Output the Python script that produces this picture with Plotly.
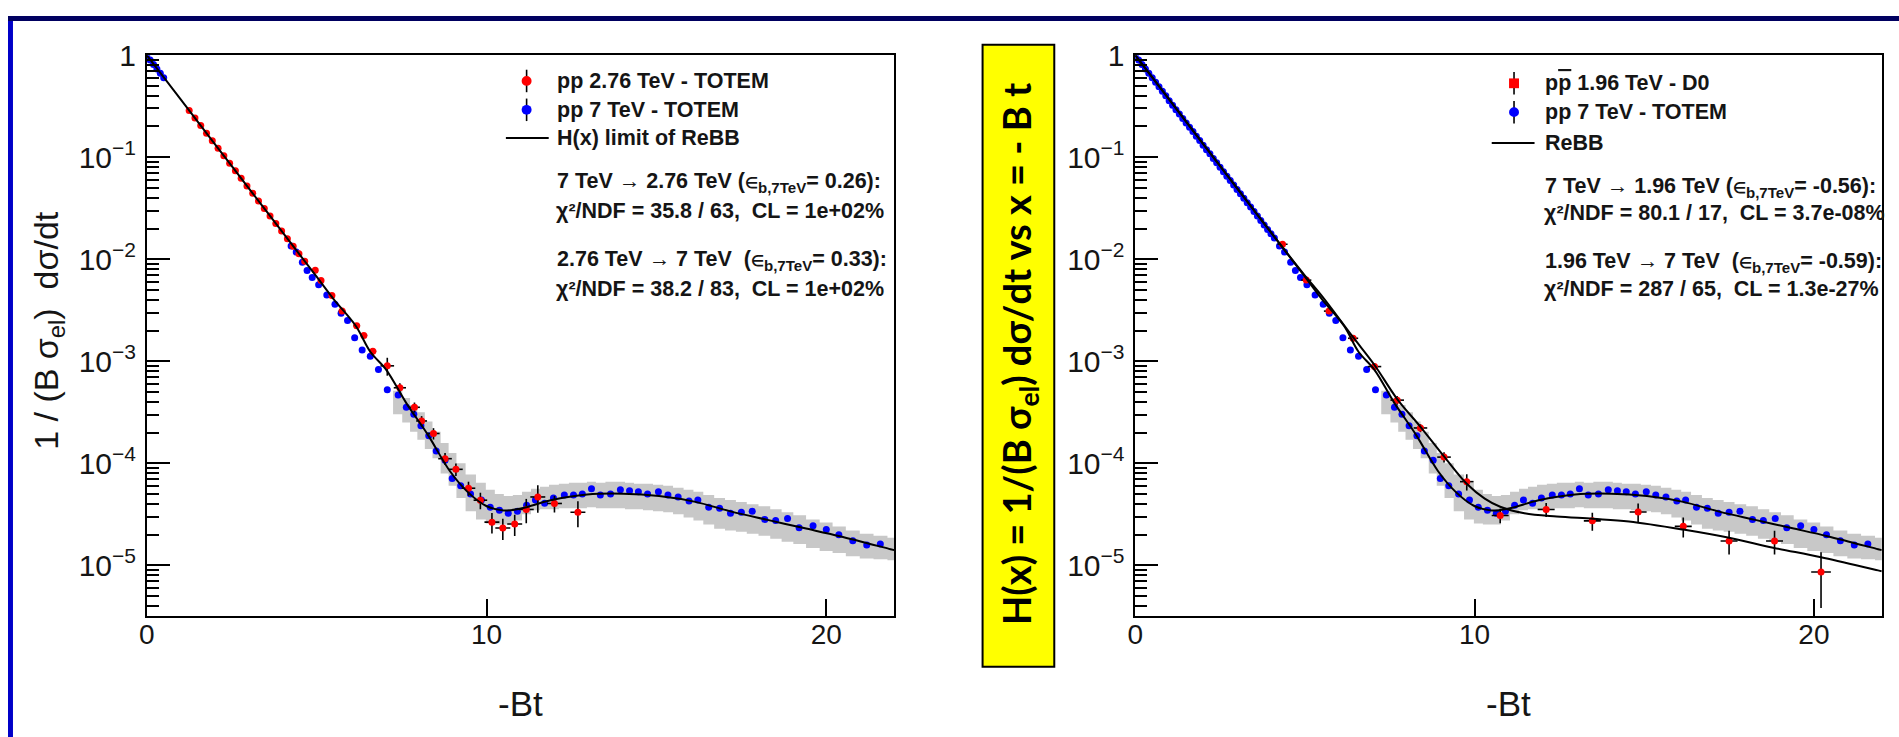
import plotly.graph_objects as go

W, H = 1899, 737

# ---------------- data ----------------
# 7 TeV TOTEM (blue): low-x dense part (left panel shows only the first points)
blue_lo_x = [0.0, 0.1, 0.2, 0.3, 0.4, 0.5, 0.6, 0.7, 0.8, 0.9, 1.0, 1.1, 1.2, 1.3, 1.4, 1.5,
             1.6, 1.7, 1.8, 1.9, 2.0, 2.1, 2.2, 2.3, 2.4, 2.5, 2.6, 2.7, 2.8, 2.9, 3.0, 3.1,
             3.2, 3.3, 3.4, 3.5, 3.6, 3.7, 3.8, 3.9, 4.0, 4.1]
blue_lo_y = [0.98, 0.895, 0.810, 0.733, 0.663, 0.600, 0.543, 0.490, 0.443, 0.400, 0.357,
             0.323, 0.292, 0.265, 0.240, 0.216, 0.196, 0.178, 0.160, 0.146, 0.131, 0.118,
             0.108, 0.097, 0.0880, 0.0796, 0.0721, 0.0652, 0.0590, 0.0534, 0.0483, 0.0437,
             0.0396, 0.0358, 0.0324, 0.0293, 0.0265, 0.0240, 0.0217, 0.0196, 0.0178, 0.0161]
blue_left_n = 6  # left panel: only x <= 0.5 of the dense part is visible
blue_c_x = [4.25, 4.40, 4.58, 4.72, 4.87, 5.06, 5.30, 5.54, 5.72, 5.91, 6.12, 6.34, 6.58, 6.82,
            7.08, 7.40, 7.64, 7.86, 8.07, 8.30, 8.52, 8.78, 8.99, 9.24, 9.53, 9.85, 10.11, 10.38,
            10.64, 10.91, 11.18, 11.44, 11.71, 11.97, 12.29, 12.56, 12.82, 13.09, 13.35, 13.65,
            13.94, 14.21, 14.47, 14.74, 15.06, 15.34, 15.64, 15.96, 16.22, 16.54, 16.86, 17.18,
            17.50, 17.82, 18.19, 18.51, 18.86, 19.20, 19.61, 20.00, 20.37, 20.78, 21.19, 21.59]
blue_c_y = [0.0135, 0.01175, 0.00933, 0.00776, 0.00661, 0.00562, 0.00447, 0.00363, 0.00295,
            0.00251, 0.00170, 0.00129, 0.00112, 8.32e-4, 5.25e-4, 4.68e-4, 3.55e-4, 3.02e-4,
            2.34e-4, 1.86e-4, 1.32e-4, 1.07e-4, 7.08e-5, 6.03e-5, 5.01e-5, 4.37e-5, 3.72e-5,
            3.47e-5, 3.24e-5, 3.39e-5, 3.89e-5, 4.37e-5, 4.07e-5, 4.57e-5, 4.90e-5, 4.90e-5,
            5.01e-5, 5.62e-5, 4.90e-5, 5.01e-5, 5.50e-5, 5.37e-5, 5.25e-5, 5.01e-5, 5.25e-5,
            4.90e-5, 4.68e-5, 4.27e-5, 4.37e-5, 3.72e-5, 3.63e-5, 3.24e-5, 3.31e-5, 3.39e-5,
            2.82e-5, 2.75e-5, 2.88e-5, 2.34e-5, 2.45e-5, 2.24e-5, 2.00e-5, 1.74e-5, 1.58e-5,
            1.62e-5]

# 2.76 TeV TOTEM (red, left panel)
red_x = [1.25, 1.42, 1.59, 1.76, 1.93, 2.10, 2.27, 2.44, 2.61, 2.78, 2.95, 3.12, 3.29, 3.46,
         3.63, 3.80, 3.97, 4.14, 4.31, 4.48, 4.65, 4.96, 5.13, 5.45, 5.75, 6.18, 6.39, 6.655,
         7.08, 7.45, 7.88, 8.09, 8.44, 8.78, 9.10, 9.47, 9.82, 10.16, 10.48, 10.83, 11.17,
         11.51, 12.00, 12.69]
red_y = [0.287, 0.242, 0.204, 0.172, 0.145, 0.122, 0.103, 0.0872, 0.0735, 0.0620, 0.0523,
         0.0442, 0.0373, 0.0314, 0.0265, 0.0224, 0.0189, 0.0159, 0.0134, 0.0113, 0.00956,
         0.0078, 0.0062, 0.0044, 0.00310, 0.00223, 0.00179, 0.00125, 9.02e-4, 5.50e-4,
         3.54e-4, 2.60e-4, 1.96e-4, 1.11e-4, 8.73e-5, 5.70e-5, 4.35e-5, 2.65e-5, 2.32e-5,
         2.54e-5, 3.53e-5, 4.68e-5, 4.04e-5, 3.31e-5]
red_yerr = [0] * 24 + [1.5e-4, 1.0e-4, 1.0e-4, 1.0e-4, 1.8e-4, 6e-5, 4e-5, 3e-5, 2.5e-5,
                       1.5e-5, 1.2e-5, 9e-6, 8e-6, 6e-6, 5.5e-6, 6e-6, 9.5e-6, 1.4e-5,
                       7.5e-6, 9.5e-6]
red_xerr = [0] * 24 + [0.1, 0.1, 0.1, 0.1, 0.2, 0.18, 0.16, 0.16, 0.18, 0.2, 0.2, 0.2, 0.2,
                       0.22, 0.22, 0.22, 0.22, 0.22, 0.22, 0.22]

# D0 1.96 TeV (red, right panel)
d0_x = [4.34, 5.04, 5.71, 6.42, 7.05, 7.72, 8.405, 9.10, 9.77, 10.755, 12.11, 13.47, 14.82,
        16.15, 17.50, 18.84, 20.21]
d0_y = [0.0140, 6.24e-3, 3.10e-3, 1.68e-3, 8.87e-4, 4.16e-4, 2.22e-4, 1.15e-4, 6.61e-5,
        3.08e-5, 3.53e-5, 2.73e-5, 3.33e-5, 2.41e-5, 1.73e-5, 1.73e-5, 8.61e-6]
d0_yerr = [8e-4, 4e-4, 2e-4, 1.2e-4, 7e-5, 4e-5, 2e-5, 1.3e-5, 1.2e-5, 5e-6, 5.5e-6, 5.5e-6,
           7e-6, 5.3e-6, 4.5e-6, 4.5e-6, 4.8e-6]
d0_xerr = [0.15, 0.15, 0.15, 0.15, 0.2, 0.2, 0.2, 0.2, 0.2, 0.25, 0.25, 0.25, 0.25, 0.25,
           0.25, 0.25, 0.29]

# ReBB / H(x) curve for 7 TeV
curve_a_x = [0, 1, 2, 3, 4, 5, 5.5, 6.15, 6.58, 7.05, 7.64, 8.28, 8.92, 9.45, 9.98, 10.51,
             11.04, 11.89, 12.96, 14.02, 15.08, 16.15, 17.21, 18.27, 19.34, 20.40, 21.89, 22.0]
curve_a_y = [1.0, 0.368, 0.135, 0.0498, 0.0183, 0.00674, 0.00407, 0.00223, 0.00124, 8.24e-4,
             3.89e-4, 1.89e-4, 8.41e-5, 5.22e-5, 3.84e-5, 3.45e-5, 3.63e-5, 4.35e-5, 4.95e-5,
             5.04e-5, 4.78e-5, 4.19e-5, 3.36e-5, 2.79e-5, 2.32e-5, 1.93e-5, 1.44e-5, 1.41e-5]
# ReBB curve for 1.96 TeV
curve_b_x = [0, 1, 2, 3, 4, 5.0, 5.51, 6.42, 7.05, 7.72, 8.405, 9.10, 9.77, 10.3, 10.755,
             11.47, 12.42, 13.49, 14.55, 16.15, 17.5, 18.8, 20.21, 21.89, 22.0]
curve_b_y = [1.0, 0.368, 0.135, 0.0498, 0.0183, 0.00692, 0.00432, 0.00172, 9.20e-4, 4.26e-4,
             2.28e-4, 1.17e-4, 6.31e-5, 4.51e-5, 3.75e-5, 3.24e-5, 3.01e-5, 2.86e-5, 2.69e-5,
             2.24e-5, 1.86e-5, 1.49e-5, 1.20e-5, 8.93e-6, 8.77e-6]

# 7 TeV uncertainty band: one box per 7 TeV point (edges, upper, lower)
band_edges = [7.25, 7.52, 7.75, 7.965, 8.185, 8.41, 8.65, 8.885, 9.115, 9.385, 9.69, 9.98,
              10.245, 10.51, 10.775, 11.045, 11.31, 11.575, 11.84, 12.13, 12.425, 12.69,
              12.955, 13.22, 13.50, 13.795, 14.075, 14.34, 14.605, 14.90, 15.20, 15.49, 15.80,
              16.09, 16.38, 16.70, 17.02, 17.34, 17.66, 18.005, 18.35, 18.685, 19.03, 19.405,
              19.805, 20.185, 20.575, 20.985, 21.39, 21.80, 22.2]
band_hi = [5.13e-4, 4.37e-4, 3.72e-4, 3.16e-4, 2.57e-4, 2.04e-4, 1.58e-4, 1.26e-4, 1.00e-4,
           7.76e-5, 6.46e-5, 5.50e-5, 5.01e-5, 4.79e-5, 4.90e-5, 5.25e-5, 5.62e-5, 5.89e-5,
           6.17e-5, 6.31e-5, 6.46e-5, 6.46e-5, 6.61e-5, 6.46e-5, 6.61e-5, 6.61e-5, 6.46e-5,
           6.31e-5, 6.31e-5, 6.17e-5, 6.03e-5, 5.75e-5, 5.50e-5, 5.25e-5, 4.90e-5, 4.57e-5,
           4.37e-5, 4.17e-5, 3.98e-5, 3.80e-5, 3.55e-5, 3.31e-5, 3.09e-5, 2.82e-5, 2.63e-5,
           2.40e-5, 2.19e-5, 2.04e-5, 1.95e-5, 1.86e-5]
band_lo = [3.02e-4, 2.51e-4, 2.04e-4, 1.70e-4, 1.38e-4, 1.12e-4, 7.94e-5, 6.03e-5, 4.57e-5,
           3.39e-5, 2.82e-5, 2.57e-5, 2.51e-5, 2.51e-5, 2.75e-5, 3.16e-5, 3.47e-5, 3.55e-5,
           3.55e-5, 3.63e-5, 3.63e-5, 3.63e-5, 3.72e-5, 3.63e-5, 3.63e-5, 3.63e-5, 3.55e-5,
           3.55e-5, 3.47e-5, 3.39e-5, 3.31e-5, 3.16e-5, 2.95e-5, 2.75e-5, 2.51e-5, 2.29e-5,
           2.19e-5, 2.14e-5, 2.04e-5, 1.95e-5, 1.82e-5, 1.70e-5, 1.62e-5, 1.48e-5, 1.38e-5,
           1.32e-5, 1.23e-5, 1.17e-5, 1.15e-5, 1.12e-5]

x_ticks = [0, 10, 20]

# ---------------- styles ----------------
RED, BLUE, GRAY = "#ff0000", "#0000ff", "#c8c8c8"
TXT = "#151515"
FONT = "Liberation Sans"


def px(x):
    return x / W


def py(y):
    return 1 - y / H


fig = go.Figure()


def add_panel(xa, ya, blue_sets, reds, curves):
    band_lo_step = band_lo + [band_lo[-1]]
    band_hi_step = band_hi + [band_hi[-1]]
    fig.add_trace(go.Scatter(x=band_edges, y=band_lo_step, mode="lines", line=dict(width=0, shape="hv"),
                             xaxis=xa, yaxis=ya, showlegend=False, hoverinfo="skip"))
    fig.add_trace(go.Scatter(x=band_edges, y=band_hi_step, mode="lines", line=dict(width=0, shape="hv"),
                             fill="tonexty", fillcolor=GRAY, xaxis=xa, yaxis=ya, showlegend=False,
                             hoverinfo="skip"))
    for bx, by in blue_sets:
        fig.add_trace(go.Scatter(x=bx, y=by, mode="markers", marker=dict(color=BLUE, size=7),
                                 xaxis=xa, yaxis=ya, showlegend=False))
    for rx, ry, rye, rxe in reds:
        fig.add_trace(go.Scatter(x=rx, y=ry, mode="markers",
                                 marker=dict(color=RED, size=7, symbol="circle"),
                                 error_y=dict(type="data", array=rye, color="black", thickness=1.6, width=0),
                                 error_x=dict(type="data", array=rxe, color="black", thickness=1.6, width=0),
                                 xaxis=xa, yaxis=ya, showlegend=False))
    for cx, cy in curves:
        fig.add_trace(go.Scatter(x=cx, y=cy, mode="lines", line=dict(color="black", width=2, shape="spline"),
                                 xaxis=xa, yaxis=ya, showlegend=False))


add_panel("x", "y",
          [(blue_lo_x[:blue_left_n], blue_lo_y[:blue_left_n]), (blue_c_x, blue_c_y)],
          [(red_x, red_y, red_yerr, red_xerr)],
          [(curve_a_x, curve_a_y)])
add_panel("x2", "y2",
          [(blue_lo_x, blue_lo_y), (blue_c_x, blue_c_y)],
          [(d0_x, d0_y, d0_yerr, d0_xerr)],
          [(curve_a_x, curve_a_y), (curve_b_x, curve_b_y)])

ydom = [py(613.7), py(40)]
xcommon = dict(range=[0, 22], tickvals=x_ticks, ticks="inside", ticklen=17, tickwidth=1.5,
               tickcolor="black", showline=True, linecolor="black", linewidth=1.8, mirror=True,
               showgrid=False, zeroline=False, tickfont=dict(family=FONT, size=28, color=TXT),
               ticklabelstandoff=-8)
ycommon = dict(type="log", range=[-5.5, 0], dtick=1, exponentformat="power", ticks="inside",
               ticklen=23, tickwidth=1.5, tickcolor="black", showline=True, linecolor="black",
               linewidth=1.8, mirror=True, showgrid=False, zeroline=False,
               minor=dict(ticks="inside", ticklen=12, tickwidth=1.5, tickcolor="black", dtick="D1",
                          showgrid=False),
               tickfont=dict(family=FONT, size=24, color=TXT), ticklabelstandoff=4, domain=ydom)

fig.update_layout(
    width=W, height=H, margin=dict(l=0, r=0, t=0, b=0),
    paper_bgcolor="white", plot_bgcolor="white", showlegend=False,
    xaxis=dict(domain=[px(139.3), px(890)], anchor="y", **xcommon),
    yaxis=dict(anchor="x", **ycommon),
    xaxis2=dict(domain=[px(1132), px(1881.7)], anchor="y2", **xcommon),
    yaxis2=dict(anchor="x2", **ycommon),
)

shapes = []
annotations = []


def ann(text, x, y, size, xanchor="left", angle=0, family=FONT, weight="bold", color=TXT):
    annotations.append(dict(text=text, x=px(x), y=py(y), xref="paper", yref="paper",
                            showarrow=False, xanchor=xanchor, yanchor="middle", textangle=angle,
                            font=dict(family=family, size=size, color=color, weight=weight)))


def marker(cx, cy, color, kind):
    r = 5
    shapes.append(dict(type="line", xref="paper", yref="paper", x0=px(cx), x1=px(cx),
                       y0=py(cy + 11.5), y1=py(cy - 11.5), line=dict(color="black", width=1.6)))
    shapes.append(dict(type="circle" if kind == "circle" else "rect", xref="paper", yref="paper",
                       x0=px(cx - r), x1=px(cx + r), y0=py(cy + r), y1=py(cy - r),
                       fillcolor=color, line=dict(width=0)))


def legline(x0, x1, y):
    shapes.append(dict(type="line", xref="paper", yref="paper", x0=px(x0), x1=px(x1),
                       y0=py(y), y1=py(y), line=dict(color="black", width=2)))


LS = 21.5
EPS = "<span style='font-size:15px'>\u2208</span>"
# left legend
marker(520.8, 66.4, RED, "circle")
marker(520.8, 95.9, BLUE, "circle")
legline(500, 543, 124.7)
ann("pp 2.76 TeV - TOTEM", 549.7, 66.4, LS)
ann("pp 7 TeV - TOTEM", 549.7, 95.9, LS)
ann("H(x) limit of ReBB", 549.7, 124.7, LS)
ann("7 TeV \u2192 2.76 TeV (" + EPS + "<sub>b,7TeV</sub>= 0.26):", 549.7, 170.5, LS)
ann("\u03c7\u00b2/NDF = 35.8 / 63, \u00a0CL = 1e+02%", 548, 199.3, LS)
ann("2.76 TeV \u2192 7 TeV \u00a0(" + EPS + "<sub>b,7TeV</sub>= 0.33):", 549.7, 250.2, LS)
ann("\u03c7\u00b2/NDF = 38.2 / 83, \u00a0CL = 1e+02%", 548, 279, LS)

# right legend
marker(1512.4, 68.8, RED, "square")
marker(1512.4, 98.3, BLUE, "circle")
legline(1490, 1533, 129.8)
ann("p<span style='text-decoration:overline'>p</span> 1.96 TeV - D0", 1541.2, 68.8, LS)
ann("pp 7 TeV - TOTEM", 1541.2, 98.3, LS)
ann("ReBB", 1541.2, 129.8, LS)
ann("7 TeV \u2192 1.96 TeV (" + EPS + "<sub>b,7TeV</sub>= -0.56):", 1541.2, 175.6, LS)
ann("\u03c7\u00b2/NDF = 80.1 / 17, \u00a0CL = 3.7e-08%", 1540, 201, LS)
ann("1.96 TeV \u2192 7 TeV \u00a0(" + EPS + "<sub>b,7TeV</sub>= -0.59):", 1541.2, 251.9, LS)
ann("\u03c7\u00b2/NDF = 287 / 65, \u00a0CL = 1.3e-27%", 1540, 279, LS)

# axis titles
ann("1 / (B \u03c3<sub>el</sub>) \u00a0d\u03c3/dt", 40, 321, 34, xanchor="center", angle=-90, weight="normal")
ann("-Bt", 515, 703, 35, xanchor="center", weight="normal")
ann("-Bt", 1507, 703, 35, xanchor="center", weight="normal")

# yellow box
shapes.append(dict(type="rect", xref="paper", yref="paper", x0=px(978.7), x1=px(1050.7),
                   y0=py(665.3), y1=py(29.3), fillcolor="#ffff00", line=dict(color="black", width=2)))
ann("H(x) = 1/(B \u03c3<sub>el</sub>) d\u03c3/dt vs x = - B t", 1015.8, 345.9, 38,
    xanchor="center", angle=-90, family="Lato", weight="bold", color="black")

# slide frame
shapes.append(dict(type="rect", xref="paper", yref="paper", x0=0, x1=px(5), y0=0, y1=1,
                   fillcolor="#0000c8", line=dict(width=0)))
shapes.append(dict(type="rect", xref="paper", yref="paper", x0=0, x1=1, y0=py(5), y1=1,
                   fillcolor="#000060", line=dict(width=0)))

fig.update_layout(shapes=shapes, annotations=annotations)

fig.write_html("out.html", config={"displayModeBar": False},
               post_script="document.body.style.margin='0px';")
